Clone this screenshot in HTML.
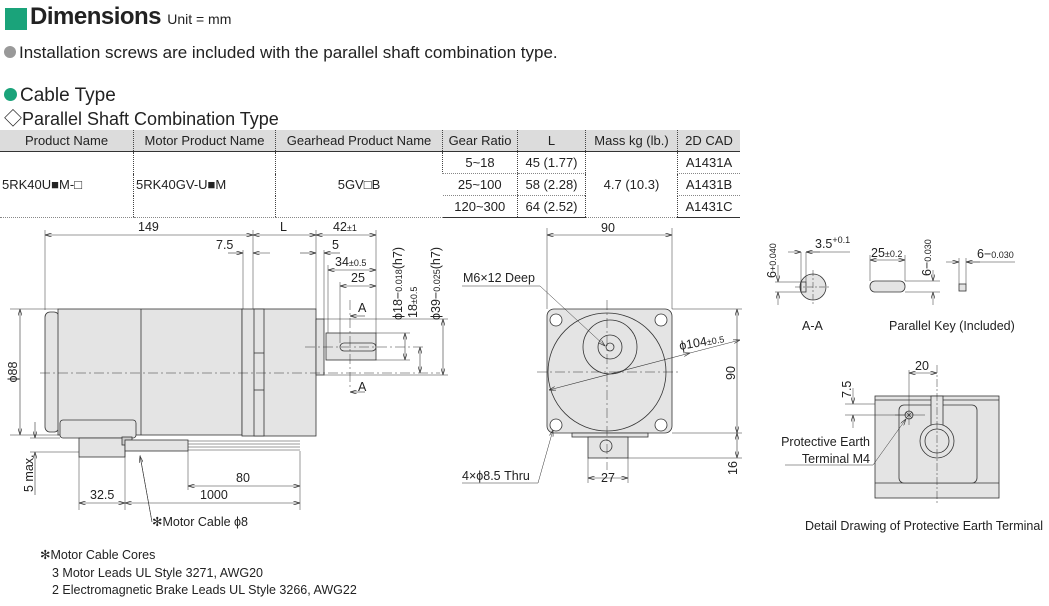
<!DOCTYPE html>
<html><head><meta charset="utf-8"><style>
body{margin:0;width:1049px;height:606px;background:#fff;font-family:"Liberation Sans","Noto Sans CJK JP",sans-serif;color:#222;position:relative;overflow:hidden}
.a{position:absolute;white-space:nowrap}
table{position:absolute;left:0;top:130px;border-collapse:collapse;font-size:13px;width:740px}
td{height:21px;padding:0 2px;text-align:center;border-left:1px dotted #444;border-bottom:1px dotted #888}
tr.h td{background:#dcdcdc;border-bottom:1px solid #333;height:21px}
td:first-child{border-left:none}
tr:last-child td{border-bottom:1px solid #333}
</style></head><body>
<div class="a" style="left:5px;top:8px;width:22px;height:22px;background:#1aa37a"></div>
<div class="a" style="left:30px;top:3px;font-size:24px;font-weight:bold;letter-spacing:-0.5px">Dimensions <span style="font-size:14px;font-weight:normal;letter-spacing:0">Unit = mm</span></div>
<div class="a" style="left:4px;top:43px;font-size:17px"><span style="display:inline-block;width:12px;height:12px;border-radius:50%;background:#999;margin-right:3px"></span>Installation screws are included with the parallel shaft combination type.</div>
<div class="a" style="left:4px;top:85px;font-size:19px"><span style="display:inline-block;width:13px;height:13px;border-radius:50%;background:#1aa37a;margin-right:3px"></span>Cable Type</div>
<div class="a" style="left:4px;top:105px;font-size:18px">◇Parallel Shaft Combination Type</div>
<table>
<tr class="h"><td style="width:129px">Product Name</td><td style="width:137px">Motor Product Name</td><td style="width:162px">Gearhead Product Name</td><td style="width:70px">Gear Ratio</td><td style="width:63px">L</td><td style="width:87px">Mass kg (lb.)</td><td>2D CAD</td></tr>
<tr><td rowspan="3" style="text-align:left">5RK40U■M-□</td><td rowspan="3" style="text-align:left">5RK40GV-U■M</td><td rowspan="3">5GV□B</td><td>5~18</td><td>45 (1.77)</td><td rowspan="3">4.7 (10.3)</td><td>A1431A</td></tr>
<tr><td>25~100</td><td>58 (2.28)</td><td>A1431B</td></tr>
<tr><td>120~300</td><td>64 (2.52)</td><td>A1431C</td></tr>
</table>
<svg class="a" style="left:0;top:0" width="1049" height="606" font-family="Liberation Sans, sans-serif" font-size="12" fill="none" stroke="#333" stroke-width="0.8">
<defs><marker id="ar" viewBox="0 0 10 6" refX="10" refY="3" markerWidth="7" markerHeight="4" orient="auto-start-reverse" markerUnits="userSpaceOnUse"><path d="M0 0L10 3L0 6" fill="none" stroke="#333" stroke-width="1"/></marker></defs>
<!-- side view -->
<rect x="45" y="312" width="14" height="120" rx="5" fill="#e4e4e4"/>
<rect x="58" y="309" width="184" height="126" fill="#e4e4e4"/>
<line x1="141" y1="309" x2="141" y2="435"/>
<rect x="242" y="309" width="74" height="127" fill="#e4e4e4"/>
<rect x="254" y="309" width="10" height="127" fill="#e4e4e4"/>
<line x1="254" y1="353" x2="264" y2="353"/><line x1="254" y1="390" x2="264" y2="390"/>
<rect x="316" y="319" width="8" height="56" fill="#e4e4e4"/>
<rect x="326" y="333" width="50" height="27" fill="#e4e4e4"/>
<rect x="340" y="343" width="36" height="8" rx="4" fill="#e4e4e4"/>
<rect x="60" y="420" width="76" height="18" rx="3" fill="#e4e4e4"/>
<rect x="79" y="438" width="46" height="19" fill="#e4e4e4"/>
<rect x="122" y="437" width="10" height="8" fill="#ccc"/>
<rect x="125" y="440" width="63" height="11" fill="#e4e4e4"/>
<g stroke-width="0.6"><line x1="188" y1="441" x2="300" y2="441"/><line x1="188" y1="444" x2="300" y2="444"/><line x1="188" y1="447" x2="300" y2="447"/><line x1="188" y1="450" x2="300" y2="450"/></g>
<g stroke-dasharray="10,3,2,3" stroke-width="0.5"><line x1="40" y1="373" x2="440" y2="373"/><line x1="305" y1="347" x2="425" y2="347"/><line x1="350" y1="300" x2="350" y2="390"/></g>
<g stroke-width="0.5">
<line x1="45" y1="230" x2="45" y2="310"/><line x1="253" y1="230" x2="253" y2="309"/><line x1="316" y1="230" x2="316" y2="309"/><line x1="376" y1="230" x2="376" y2="333"/>
<line x1="243" y1="250" x2="243" y2="309"/><line x1="324" y1="250" x2="324" y2="319"/><line x1="328" y1="265" x2="328" y2="333"/><line x1="340" y1="282" x2="340" y2="343"/>
<line x1="10" y1="309" x2="58" y2="309"/><line x1="10" y1="435" x2="58" y2="435"/>
<line x1="30" y1="452" x2="79" y2="452"/><line x1="30" y1="438" x2="60" y2="438"/>
<line x1="79" y1="457" x2="79" y2="510"/><line x1="125" y1="451" x2="125" y2="510"/><line x1="188" y1="451" x2="188" y2="490"/><line x1="300" y1="451" x2="300" y2="510"/>
<line x1="376" y1="333" x2="410" y2="333"/><line x1="376" y1="360" x2="410" y2="360"/><line x1="324" y1="319" x2="448" y2="319"/><line x1="324" y1="375" x2="448" y2="375"/>
<line x1="140" y1="455" x2="152" y2="522"/>
</g>
<g stroke-width="0.6" marker-start="url(#ar)" marker-end="url(#ar)">
<line x1="45" y1="235" x2="253" y2="235"/><line x1="253" y1="235" x2="316" y2="235"/><line x1="316" y1="235" x2="376" y2="235"/>
<line x1="328" y1="270" x2="376" y2="270"/><line x1="340" y1="286" x2="376" y2="286"/>
<line x1="20" y1="309" x2="20" y2="435"/>
<line x1="79" y1="503" x2="125" y2="503"/><line x1="125" y1="503" x2="300" y2="503"/><line x1="188" y1="486" x2="300" y2="486"/>
<line x1="405" y1="333" x2="405" y2="360"/><line x1="420" y1="347" x2="420" y2="373"/><line x1="443" y1="319" x2="443" y2="375"/>
</g>
<g stroke-width="0.6" marker-end="url(#ar)">
<line x1="228" y1="253" x2="243" y2="253"/><line x1="270" y1="253" x2="253" y2="253"/>
<line x1="300" y1="253" x2="316" y2="253"/><line x1="340" y1="253" x2="324" y2="253"/>
<line x1="365" y1="316" x2="350" y2="316"/><line x1="365" y1="392" x2="350" y2="392"/>
<line x1="35" y1="422" x2="35" y2="438"/><line x1="35" y1="495" x2="35" y2="452"/>
<line x1="152" y1="522" x2="140" y2="456"/>
</g>
<g fill="#222" stroke="none" font-size="12.5">
<text x="138" y="231">149</text><text x="280" y="231">L</text><text x="333" y="231" >42<tspan font-size="9">±1</tspan></text>
<text x="216" y="249">7.5</text><text x="332" y="249">5</text><text x="335" y="266">34<tspan font-size="9">±0.5</tspan></text><text x="351" y="282">25</text>
<text x="358" y="312">A</text><text x="358" y="391">A</text>
<text x="236" y="482">80</text><text x="200" y="499">1000</text><text x="90" y="499">32.5</text>
<text transform="translate(17,372) rotate(-90)" text-anchor="middle">ϕ88</text>
<text transform="translate(33,492) rotate(-90)">5 max.</text>
<text transform="translate(402,320) rotate(-90)">ϕ18−<tspan font-size="9">0.018</tspan>(h7)</text>
<text transform="translate(417,318) rotate(-90)">18<tspan font-size="9">±0.5</tspan></text>
<text transform="translate(440,320) rotate(-90)">ϕ39−<tspan font-size="9">0.025</tspan>(h7)</text>
<text x="152" y="526">✻Motor Cable ϕ8</text>
<text x="40" y="559">✻Motor Cable Cores</text>
<text x="52" y="577">3 Motor Leads UL Style 3271, AWG20</text>
<text x="52" y="594">2 Electromagnetic Brake Leads UL Style 3266, AWG22</text>
</g>
<!-- front view -->
<rect x="547" y="309" width="125" height="124" rx="7" fill="#e4e4e4"/>
<circle cx="607" cy="372" r="59" fill="#e4e4e4"/>
<circle cx="610" cy="347" r="27" fill="#e4e4e4"/>
<circle cx="610" cy="347" r="12"/><circle cx="610" cy="347" r="4"/>
<circle cx="556" cy="320" r="6" fill="#fff"/><circle cx="661" cy="320" r="6" fill="#fff"/><circle cx="556" cy="425" r="6" fill="#fff"/><circle cx="661" cy="425" r="6" fill="#fff"/>
<rect x="572" y="433" width="76" height="4" fill="#e4e4e4"/>
<rect x="588" y="437" width="40" height="21" fill="#e4e4e4"/>
<circle cx="606" cy="446" r="6"/>
<g stroke-width="0.5">
<line x1="537" y1="372" x2="680" y2="372" stroke-dasharray="10,3,2,3"/><line x1="607" y1="300" x2="607" y2="470" stroke-dasharray="10,3,2,3"/>
<line x1="547" y1="228" x2="547" y2="309"/><line x1="672" y1="228" x2="672" y2="309"/>
<line x1="672" y1="309" x2="742" y2="309"/><line x1="672" y1="433" x2="742" y2="433"/><line x1="628" y1="458" x2="742" y2="458"/>
<line x1="588" y1="458" x2="588" y2="483"/><line x1="628" y1="458" x2="628" y2="483"/>
<line x1="462" y1="286" x2="540" y2="286"/>
<line x1="462" y1="483" x2="538" y2="483"/>
</g>
<g stroke-width="0.6" marker-start="url(#ar)" marker-end="url(#ar)">
<line x1="547" y1="235" x2="672" y2="235"/><line x1="737" y1="309" x2="737" y2="433"/><line x1="737" y1="433" x2="737" y2="458"/>
<line x1="588" y1="478" x2="628" y2="478"/><line x1="549" y1="390" x2="690" y2="353"/>
</g>
<g stroke-width="0.5" marker-end="url(#ar)">
<line x1="540" y1="286" x2="605" y2="346"/><line x1="690" y1="353" x2="740" y2="340"/><line x1="538" y1="483" x2="553" y2="430"/>
</g>
<g fill="#222" stroke="none" font-size="12.5">
<text x="601" y="232">90</text><text x="463" y="282">M6×12 Deep</text>
<text transform="translate(680,350) rotate(-10)">ϕ104<tspan font-size="9">±0.5</tspan></text>
<text transform="translate(735,380) rotate(-90)">90</text><text transform="translate(737,475) rotate(-90)">16</text>
<text x="601" y="482">27</text><text x="462" y="480">4×ϕ8.5 Thru</text>
</g>
<!-- A-A / key -->
<circle cx="813" cy="287" r="13" fill="#e4e4e4"/>
<rect x="801" y="282" width="5" height="10" fill="#e4e4e4"/>
<rect x="870" y="281" width="35" height="11" rx="5" fill="#e4e4e4"/>
<rect x="959" y="284" width="7" height="7" fill="#e4e4e4"/>
<g stroke-width="0.5">
<line x1="795" y1="287" x2="830" y2="287" stroke-dasharray="6,2,2,2"/><line x1="813" y1="270" x2="813" y2="305" stroke-dasharray="6,2,2,2"/>
<line x1="775" y1="282" x2="801" y2="282"/><line x1="775" y1="292" x2="801" y2="292"/>
<line x1="801" y1="252" x2="801" y2="282"/><line x1="806" y1="252" x2="806" y2="282"/><line x1="806" y1="252" x2="850" y2="252"/>
<line x1="870" y1="255" x2="870" y2="281"/><line x1="905" y1="255" x2="905" y2="281"/>
<line x1="905" y1="281" x2="940" y2="281"/><line x1="905" y1="292" x2="940" y2="292"/>
<line x1="959" y1="258" x2="959" y2="284"/><line x1="966" y1="258" x2="966" y2="284"/><line x1="966" y1="262" x2="1015" y2="262"/>
</g>
<g stroke-width="0.5" marker-start="url(#ar)" marker-end="url(#ar)">
<line x1="870" y1="260" x2="905" y2="260"/>
</g>
<g stroke-width="0.5" marker-end="url(#ar)">
<line x1="778" y1="265" x2="778" y2="282"/><line x1="778" y1="305" x2="778" y2="292"/>
<line x1="933" y1="270" x2="933" y2="281"/><line x1="933" y1="305" x2="933" y2="292"/>
<line x1="788" y1="252" x2="801" y2="252"/><line x1="820" y1="252" x2="806" y2="252"/>
<line x1="946" y1="262" x2="959" y2="262"/><line x1="980" y1="262" x2="966" y2="262"/>
</g>
<g fill="#222" stroke="none" font-size="12.5">
<text x="815" y="248">3.5<tspan font-size="9" dy="-5">+0.1</tspan></text>
<text transform="translate(776,278) rotate(-90)">6<tspan font-size="9">+0.040</tspan></text>
<text x="871" y="257">25<tspan font-size="9">±0.2</tspan></text>
<text transform="translate(931,276) rotate(-90)">6−<tspan font-size="9">0.030</tspan></text>
<text x="977" y="258">6−<tspan font-size="9">0.030</tspan></text>
<text x="802" y="330">A-A</text><text x="889" y="330">Parallel Key (Included)</text>
</g>
<!-- detail -->
<rect x="875" y="396" width="124" height="102" fill="#e4e4e4"/>
<line x1="875" y1="400" x2="999" y2="400"/><line x1="875" y1="483" x2="999" y2="483"/>
<rect x="899" y="405" width="78" height="78" rx="5" fill="#e4e4e4"/>
<rect x="931" y="396" width="12" height="30" fill="#e4e4e4"/>
<circle cx="937" cy="441" r="17" fill="#e4e4e4"/><circle cx="937" cy="441" r="12"/>
<circle cx="909" cy="415" r="4"/><path d="M906 412l6 6M912 412l-6 6" stroke-width="0.6"/>
<g stroke-width="0.5">
<line x1="937" y1="365" x2="937" y2="505" stroke-dasharray="8,2,2,2"/><line x1="909" y1="370" x2="909" y2="425"/><line x1="895" y1="415" x2="925" y2="415"/>
<line x1="845" y1="404" x2="875" y2="404"/><line x1="845" y1="415" x2="905" y2="415"/>
<line x1="785" y1="465" x2="873" y2="465"/>
</g>
<g stroke-width="0.5" marker-start="url(#ar)" marker-end="url(#ar)"><line x1="909" y1="373" x2="937" y2="373"/></g>
<g stroke-width="0.5" marker-end="url(#ar)">
<line x1="853" y1="388" x2="853" y2="404"/><line x1="853" y1="428" x2="853" y2="415"/><line x1="873" y1="465" x2="906" y2="419"/>
</g>
<g fill="#222" stroke="none" font-size="12.5">
<text x="915" y="370">20</text><text transform="translate(851,398) rotate(-90)">7.5</text>
<text x="870" y="446" text-anchor="end">Protective Earth</text><text x="870" y="463" text-anchor="end">Terminal M4</text>
<text x="805" y="530">Detail Drawing of Protective Earth Terminal</text>
</g>
</svg>
</body></html>
